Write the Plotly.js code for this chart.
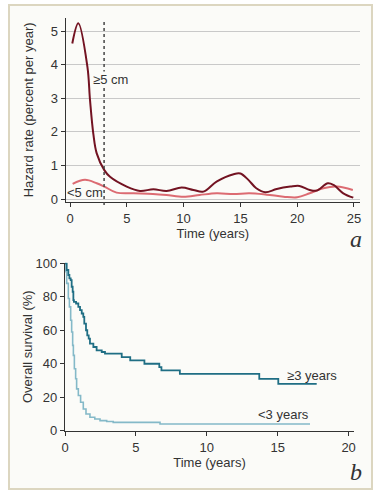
<!DOCTYPE html>
<html>
<head>
<meta charset="utf-8">
<script src="https://cdn.plot.ly/plotly-3.0.1.min.js"></script>
<style>html,body{margin:0;padding:0;background:#fff;}#chart{width:384px;height:500px;}</style>
</head>
<body>
<div id="chart"></div>
<script>
// Panel a: smoothed hazard rates (percent per year)
const hazardBigTime = [0.2, 0.73, 1.53, 1.76, 2.05, 2.35, 3.02, 3.52, 4.99, 6.16, 7.34, 8.5, 9.83, 10.86, 11.74, 12.9, 14.4, 15.0, 15.7, 16.4, 17.2, 18.2, 19.4, 20.2, 21.1, 21.7, 22.7, 23.2, 24.06, 24.94];
const hazardBig = [4.63, 5.23, 3.94, 2.95, 1.95, 1.36, 0.86, 0.66, 0.37, 0.24, 0.29, 0.24, 0.34, 0.27, 0.22, 0.52, 0.74, 0.76, 0.57, 0.32, 0.2, 0.3, 0.37, 0.39, 0.27, 0.25, 0.47, 0.42, 0.17, 0.04];
const hazardSmallTime = [0.23, 1.32, 2.35, 3.02, 4.1, 5.6, 7.3, 8.5, 10.0, 11.4, 12.9, 14.4, 15.8, 17.3, 18.8, 20.0, 21.1, 22.3, 23.5, 24.9];
const hazardSmall = [0.45, 0.57, 0.47, 0.37, 0.19, 0.17, 0.15, 0.12, 0.07, 0.12, 0.17, 0.15, 0.17, 0.13, 0.07, 0.05, 0.17, 0.32, 0.37, 0.27];
const cutoffYear = 3;
const hazardYTicks = [0, 1, 2, 3, 4, 5];
const hazardXTicks = [0, 5, 10, 15, 20, 25];

// Panel b: Kaplan-Meier overall survival (%)
const survLongTime = [0, 0.12, 0.235, 0.31, 0.4, 0.47, 0.54, 0.59, 0.63, 0.78, 0.94, 1.06, 1.18, 1.29, 1.36, 1.48, 1.57, 1.67, 1.76, 2.0, 2.23, 2.59, 2.82, 4.0, 4.6, 5.6, 6.65, 6.8, 8.1, 13.7, 15.04, 17.75];
const survLong = [100, 96, 93, 91, 90, 86, 83, 78, 77, 76, 74, 72, 70, 68, 64, 60, 57, 55, 52, 50, 48, 47, 46, 44, 42, 40, 38, 36, 34, 31, 28, 28];
const survShortTime = [0, 0.07, 0.12, 0.235, 0.31, 0.4, 0.47, 0.54, 0.59, 0.66, 0.75, 0.82, 0.94, 1.1, 1.29, 1.48, 1.76, 2.1, 2.47, 2.94, 3.4, 6.7, 17.28];
const survShort = [100, 95, 88, 79, 74, 66, 59, 51, 45, 37, 31, 25, 21, 17, 13, 10, 8, 7, 6, 5.5, 5, 4, 4];
const survYTicks = [0, 20, 40, 60, 80, 100];
const survXTicks = [0, 5, 10, 15, 20];

const FONT = '"Liberation Sans", Arial, Helvetica, sans-serif';
const TXT = '#333333';
const PANEL = '#fbfbf8';

const traces = [
  {x: hazardSmallTime, y: hazardSmall, xaxis: 'x', yaxis: 'y', mode: 'lines',
   line: {color: '#dc6b72', width: 2, shape: 'spline', smoothing: 1}, name: '<5 cm', hoverinfo: 'skip'},
  {x: hazardBigTime, y: hazardBig, xaxis: 'x', yaxis: 'y', mode: 'lines',
   line: {color: '#731322', width: 2, shape: 'spline', smoothing: 1}, name: '≥5 cm', hoverinfo: 'skip'},
  {x: survShortTime, y: survShort, xaxis: 'x2', yaxis: 'y2', mode: 'lines',
   line: {color: '#84b9c8', width: 1.6, shape: 'hv'}, name: '<3 years', hoverinfo: 'skip'},
  {x: survLongTime, y: survLong, xaxis: 'x2', yaxis: 'y2', mode: 'lines',
   line: {color: '#1f6e84', width: 1.8, shape: 'hv'}, name: '≥3 years', hoverinfo: 'skip'}
];

const axBase = {
  showline: true, linecolor: '#333', linewidth: 1.2,
  ticks: 'outside', ticklen: 4, tickwidth: 1, tickcolor: '#333',
  tickfont: {family: FONT, size: 13, color: TXT},
  zeroline: false, fixedrange: true
};

const layout = {
  width: 384, height: 500,
  margin: {l: 0, r: 0, t: 0, b: 0},
  paper_bgcolor: '#ffffff', plot_bgcolor: 'rgba(0,0,0,0)',
  showlegend: false,
  font: {family: FONT, size: 13, color: TXT},
  xaxis: Object.assign({}, axBase, {
    domain: [65.7/384, 360/384], range: [-0.38, 25.53], anchor: 'y',
    tickvals: hazardXTicks, showgrid: false,
    title: {text: 'Time (years)', font: {family: FONT, size: 13, color: TXT}, standoff: 2}
  }),
  yaxis: Object.assign({}, axBase, {
    domain: [(500-201.7)/500, (500-18)/500], range: [-0.08, 5.39], anchor: 'x',
    tickvals: hazardYTicks, showgrid: true, gridcolor: '#c9c9c9', gridwidth: 1,
    title: {text: 'Hazard rate (percent per year)', font: {family: FONT, size: 13, color: TXT}, standoff: 14}
  }),
  xaxis2: Object.assign({}, axBase, {
    domain: [65/384, 354/384], range: [0, 20.38], anchor: 'y2',
    tickvals: survXTicks, showgrid: false,
    title: {text: 'Time (years)', font: {family: FONT, size: 13, color: TXT}, standoff: 2}
  }),
  yaxis2: Object.assign({}, axBase, {
    domain: [(500-430.7)/500, (500-262.7)/500], range: [0, 100.36], anchor: 'x2',
    tickvals: survYTicks, showgrid: false,
    title: {text: 'Overall survival (%)', font: {family: FONT, size: 13, color: TXT}, standoff: 0}
  }),
  shapes: [
    {type: 'rect', xref: 'paper', yref: 'paper', x0: 9/384, x1: 372/384, y0: (500-489)/500, y1: (500-5)/500,
     fillcolor: PANEL, line: {color: '#dcd6c0', width: 2}, layer: 'below'},
    {type: 'line', xref: 'x', yref: 'paper', x0: cutoffYear, x1: cutoffYear,
     y0: (500-205)/500, y1: (500-21.7)/500, line: {color: '#444', width: 1.5, dash: 'dot'}}
  ],
  annotations: [
    {xref: 'x', yref: 'y', x: 3.52, y: 3.57, text: '≥5 cm', showarrow: false,
     font: {family: FONT, size: 13, color: TXT}, bgcolor: PANEL, borderpad: 0},
    {xref: 'x', yref: 'y', x: 1.36, y: 0.18, text: '<5 cm', showarrow: false,
     font: {family: FONT, size: 13, color: TXT}, bgcolor: 'rgba(0,0,0,0)', borderpad: 0},
    {xref: 'x2', yref: 'y2', x: 17.4, y: 32.7, text: '≥3 years', showarrow: false,
     font: {family: FONT, size: 13, color: TXT}},
    {xref: 'x2', yref: 'y2', x: 15.44, y: 9.4, text: '<3 years', showarrow: false,
     font: {family: FONT, size: 13, color: TXT}},
    {xref: 'paper', yref: 'paper', x: 355.5/384, y: (500-238.5)/500, text: 'a', showarrow: false,
     xanchor: 'center', yanchor: 'middle',
     font: {family: '"Liberation Serif", "DejaVu Serif", serif', size: 24, color: TXT, style: 'italic'}},
    {xref: 'paper', yref: 'paper', x: 355.5/384, y: (500-472)/500, text: 'b', showarrow: false,
     xanchor: 'center', yanchor: 'middle',
     font: {family: '"Liberation Serif", "DejaVu Serif", serif', size: 24, color: TXT, style: 'italic'}}
  ]
};

Plotly.newPlot('chart', traces, layout, {staticPlot: true, displayModeBar: false});
</script>
</body>
</html>
